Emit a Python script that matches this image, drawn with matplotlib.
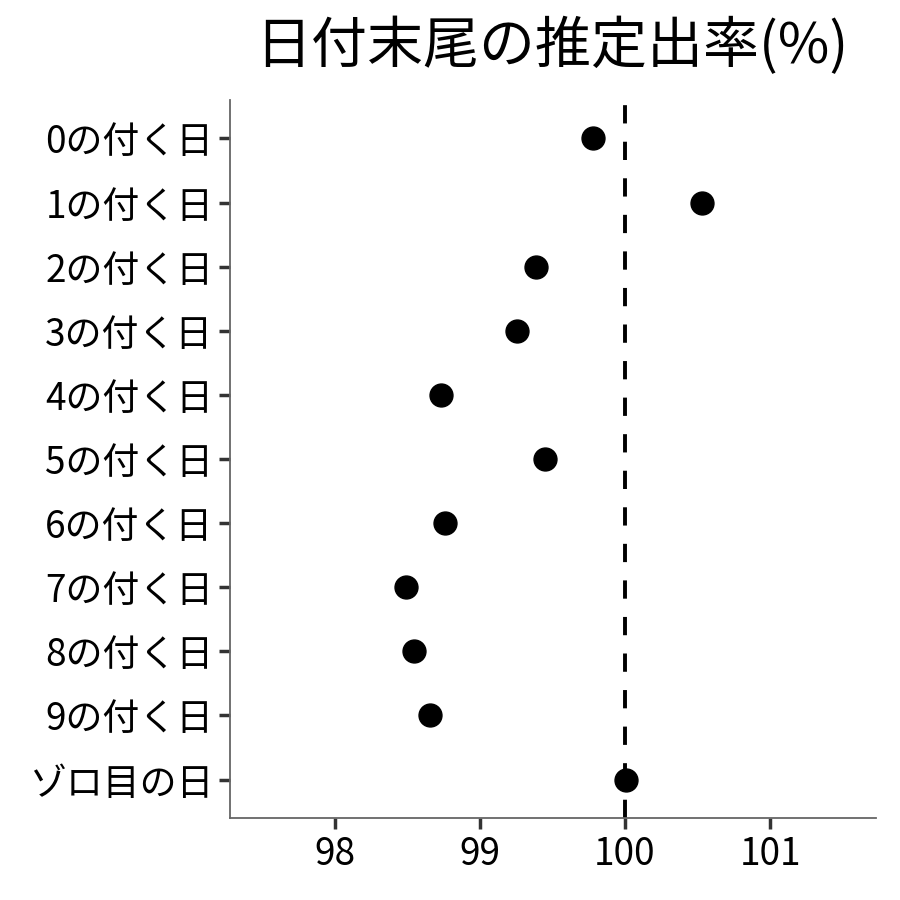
import numpy as np
import matplotlib
matplotlib.use('Agg')
import matplotlib.pyplot as plt

plt.rcParams['font.family'] = ['Noto Sans CJK JP', 'DejaVu Sans']

labels = ['0の付く日', '1の付く日', '2の付く日', '3の付く日', '4の付く日',
          '5の付く日', '6の付く日', '7の付く日', '8の付く日', '9の付く日', 'ゾロ目の日']
rates = [99.78, 100.53, 99.39, 99.26, 98.73, 99.45, 98.76, 98.49, 98.55, 98.66, 100.01]
xticks = [98, 99, 100, 101]

fig = plt.figure(figsize=(9, 9), dpi=100)
ax = fig.add_axes([0.2556, 0.0911, 0.7178, 0.7978])

y = np.arange(len(labels))
ax.axvline(100, color='black', lw=2.8, dashes=(4.7, 4.7), zorder=1)
ax.plot(rates, y, 'o', color='black', markersize=16.5, zorder=2)

ax.set_xlim(97.28, 101.73)
ax.set_ylim(len(labels) - 0.4, -0.6)
ax.set_yticks(y)
ax.set_yticklabels(labels)
ax.set_xticks(xticks)
ax.set_xticklabels([str(t) for t in xticks])

for s in ['top', 'right']:
    ax.spines[s].set_visible(False)
for s in ['left', 'bottom']:
    ax.spines[s].set_color('#666666')
    ax.spines[s].set_linewidth(1.3)
ax.tick_params(axis='both', length=8, width=2.5, color='#333333', labelsize=26.6,
               labelcolor='black', pad=4)

fig.text(0.6135, 0.948, '日付末尾の推定出率(%)', ha='center', va='center', fontsize=40.3)

fig.savefig('out.png', dpi=100)
